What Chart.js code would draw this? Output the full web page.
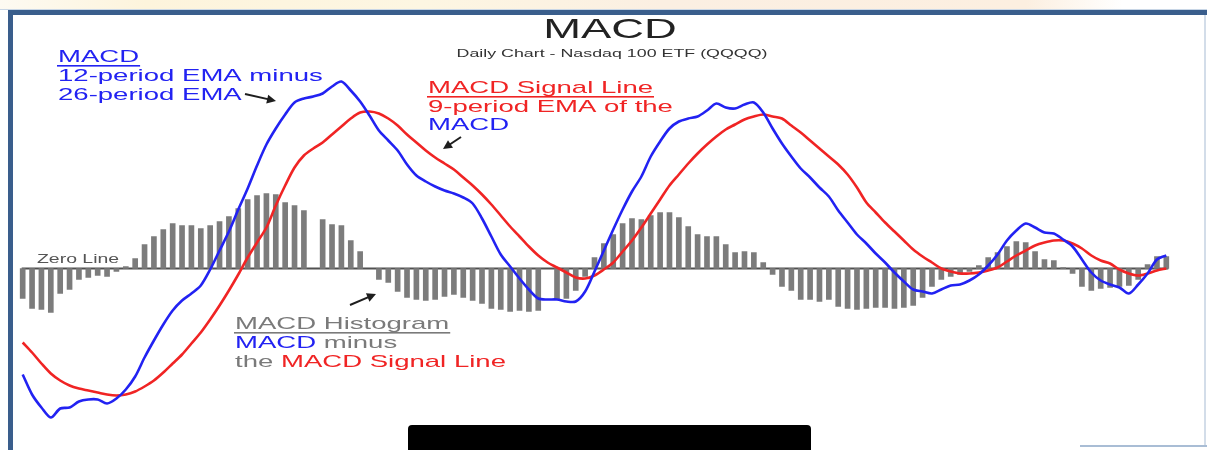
<!DOCTYPE html>
<html>
<head>
<meta charset="utf-8">
<script src="https://cdn.jsdelivr.net/npm/chart.js@4.4.1/dist/chart.umd.min.js"></script>
<style>
  html, body { margin: 0; padding: 0; background: #fff; }
  #wrap { width: 1207px; height: 450px; position: relative; }
</style>
</head>
<body>
<div id="wrap"><canvas id="macd" width="1207" height="450"></canvas></div>
<script>
// MACD — daily chart, Nasdaq 100 ETF (QQQQ)

// histogram (MACD minus signal), one bar per day; null = no bar visible
const histogram = [
  -30, -40, -41, -44, -25, -21, -11, -9, -7, -8,
  -3, 2, 10, 24, 32, 39, 45, 43, 43, 40,
  43, 47, 52, 60, 69, 73, 75, 74, 66, 63,
  58, null, 49, 44, 43, 28, 17, null, -11, -14,
  -23, -29, -31, -32, -31, -28, -26, -29, -32, -35,
  -40, -41, -43, -42, -43, -42, null, -31, -30, -22,
  -8, 11, 25, 34, 45, 50, 49, 53, 56, 56,
  51, 42, 34, 32, 32, 24, 16, 17, 16, 6,
  -6, -18, -22, -31, -31, -33, -31, -38, -40, -41,
  -40, -39, -39, -40, -39, -37, -29, -18, -11, -8,
  -6, -3, 3, 11, 16, 22, 27, 26, 17, 9,
  8, 1, -5, -18, -22, -20, -19, -18, -17, -11,
  4, 12, 12,
];

// MACD line (12 EMA - 26 EMA)
const macdLine = [
  -106, -126, -139, -149, -140, -139, -133, -131, -131, -135,
  -130, -121, -108, -89, -72, -56, -42, -32, -25, -17,
  -1, 18, 37, 59, 80, 103, 124, 140, 154, 166,
  170, 172, 175, 182, 187, 178, 167, 153, 138, 128,
  118, 104, 93, 87, 82, 78, 75, 71, 65, 50,
  32, 14, 2, -10, -21, -30, -31, -31, -33, -33,
  -23, -3, 18, 39, 59, 77, 92, 112, 127, 140,
  147, 150, 152, 158, 165, 161, 160, 164, 166, 156,
  140, 125, 112, 100, 91, 81, 72, 58, 46, 34,
  25, 15, 6, -4, -13, -21, -23, -25, -21, -17,
  -16, -12, -6, 3, 14, 28, 38, 45, 41, 36,
  35, 29, 22, 9, -4, -12, -16, -19, -25, -16,
  -5, 9, 13,
];

// signal line (9 EMA of MACD)
const signalLine = [
  -74, -84, -95, -105, -112, -117, -120, -122, -124, -126,
  -127, -126, -123, -118, -112, -104, -95, -86, -75, -64,
  -51, -37, -22, -6, 11, 26, 41, 63, 83, 101,
  113, 120, 126, 134, 142, 150, 156, 157, 155, 150,
  143, 134, 126, 118, 111, 105, 99, 91, 83, 74,
  64, 53, 42, 32, 22, 13, 6, 1, -4, -9,
  -10, -7, -1, 6, 17, 28, 41, 55, 69, 83,
  94, 105, 115, 124, 132, 139, 144, 149, 152, 154,
  152, 150, 143, 136, 128, 120, 112, 104, 94, 81,
  66, 56, 46, 37, 28, 19, 12, 6, 0, -3,
  -5, -5, -4, -2, 1, 7, 13, 18, 23, 26,
  28, 28, 25, 20, 13, 8, 5, -1, -5, -7,
  -5, -2, 0,
];

const days = histogram.map((_, i) => i + 1);

const COLORS = {
  blue: '#2222f2',
  red: '#f02424',
  bar: '#7c7c7c',
  zero: '#505050',
  frame: '#3a5e8c',
  histText: '#7a7a7a',
};

const FONT = '"Liberation Sans", Arial, sans-serif';
const STRETCH = 1.62; // the source picture is stretched horizontally

// draws a line of coloured runs, horizontally stretched; returns end x
function drawRuns(ctx, x, y, runs, size, underline) {
  ctx.font = `${size}px ${FONT}`;
  ctx.textBaseline = 'alphabetic';
  let cx = x;
  for (const [text, color] of runs) {
    const w = ctx.measureText(text).width * STRETCH;
    ctx.save();
    ctx.translate(cx, y);
    ctx.scale(STRETCH, 1);
    ctx.fillStyle = color;
    ctx.fillText(text, 0, 0);
    ctx.restore();
    cx += w;
  }
  if (underline) {
    ctx.fillStyle = underline;
    ctx.fillRect(x - 1, y + 3, cx - x + 2, 1.6);
  }
  return cx;
}

function centered(ctx, cx, y, text, size, color) {
  ctx.font = `${size}px ${FONT}`;
  const w = ctx.measureText(text).width * STRETCH;
  drawRuns(ctx, cx - w / 2, y, [[text, color]], size);
}

function arrow(ctx, x1, y1, x2, y2) {
  const a = Math.atan2(y2 - y1, x2 - x1);
  ctx.save();
  ctx.strokeStyle = '#1e1e1e';
  ctx.fillStyle = '#1e1e1e';
  ctx.lineWidth = 2;
  ctx.beginPath();
  ctx.moveTo(x1, y1);
  ctx.lineTo(x2 - 5 * Math.cos(a), y2 - 5 * Math.sin(a));
  ctx.stroke();
  ctx.beginPath();
  ctx.moveTo(x2, y2);
  ctx.lineTo(x2 - 9 * Math.cos(a) + 4.5 * Math.sin(a), y2 - 9 * Math.sin(a) - 4.5 * Math.cos(a));
  ctx.lineTo(x2 - 9 * Math.cos(a) - 4.5 * Math.sin(a), y2 - 9 * Math.sin(a) + 4.5 * Math.cos(a));
  ctx.closePath();
  ctx.fill();
  ctx.restore();
}

const framePlugin = {
  id: 'frame',
  beforeDraw(chart) {
    const ctx = chart.ctx;
    ctx.save();
    ctx.fillStyle = '#fff';
    ctx.fillRect(0, 0, 1207, 450);
    const g = ctx.createLinearGradient(0, 0, 1207, 0);
    g.addColorStop(0, '#fdfaf2');
    g.addColorStop(0.12, '#fdf4dc');
    g.addColorStop(0.35, '#fdf6e2');
    g.addColorStop(0.55, '#fbefe2');
    g.addColorStop(0.85, '#fcefe0');
    g.addColorStop(0.93, '#ffffff');
    ctx.fillStyle = g;
    ctx.fillRect(0, 0, 1207, 10);
    ctx.fillStyle = '#c8d6e6';
    ctx.fillRect(0, 9, 1207, 1);
    ctx.fillStyle = COLORS.frame;
    ctx.fillRect(8, 10, 1199, 5);
    ctx.fillRect(8, 10, 5, 440);
    ctx.fillStyle = '#d3dde9';
    ctx.fillRect(1204, 15, 2, 430);
    ctx.fillStyle = '#a9bdd5';
    ctx.fillRect(1080, 445, 127, 2);
    ctx.restore();
  },
  beforeDatasetsDraw(chart) {
    const { ctx, scales: { x, y } } = chart;
    const y0 = y.getPixelForValue(0);
    ctx.save();
    ctx.strokeStyle = COLORS.zero;
    ctx.lineWidth = 2;
    ctx.beginPath();
    ctx.moveTo(x.getPixelForValue(0) - 1, y0);
    ctx.lineTo(x.getPixelForValue(days.length - 1) + 2, y0);
    ctx.stroke();
    ctx.restore();
  },
  afterDraw(chart) {
    const ctx = chart.ctx;
    ctx.save();
    centered(ctx, 610, 38, 'MACD', 28, '#222');
    centered(ctx, 612, 57, 'Daily Chart - Nasdaq 100 ETF (QQQQ)', 11, '#333');

    drawRuns(ctx, 58, 62, [['MACD', COLORS.blue]], 17, COLORS.blue);
    drawRuns(ctx, 58, 81, [['12-period EMA minus', COLORS.blue]], 17);
    drawRuns(ctx, 58, 100, [['26-period EMA', COLORS.blue]], 17);
    arrow(ctx, 245, 94, 276, 101);

    drawRuns(ctx, 428, 93, [['MACD Signal Line', COLORS.red]], 17, COLORS.red);
    drawRuns(ctx, 428, 112, [['9-period EMA of the', COLORS.red]], 17);
    drawRuns(ctx, 428, 130, [['MACD', COLORS.blue]], 17);
    arrow(ctx, 461, 137, 443, 149);

    drawRuns(ctx, 37, 263, [['Zero Line', '#555']], 12);

    drawRuns(ctx, 235, 329, [['MACD Histogram', COLORS.histText]], 17, COLORS.histText);
    drawRuns(ctx, 235, 348, [['MACD', COLORS.blue], [' minus', COLORS.histText]], 17);
    drawRuns(ctx, 235, 367, [['the ', COLORS.histText], ['MACD Signal Line', COLORS.red]], 17);
    arrow(ctx, 350, 305, 376, 294);

    // redaction box at the bottom of the source picture
    ctx.fillStyle = '#000';
    ctx.beginPath();
    ctx.roundRect(408, 425, 403, 30, 4);
    ctx.fill();
    ctx.restore();
  },
};

new Chart(document.getElementById('macd'), {
  data: {
    labels: days,
    datasets: [
      { type: 'line', label: 'MACD', data: macdLine, borderColor: COLORS.blue, borderWidth: 2.6, pointRadius: 0, tension: 0.3, order: 1 },
      { type: 'line', label: 'Signal', data: signalLine, borderColor: COLORS.red, borderWidth: 2.6, pointRadius: 0, tension: 0.3, order: 2 },
      { type: 'bar', label: 'Histogram', data: histogram, backgroundColor: COLORS.bar, barThickness: 5, order: 3 },
    ],
  },
  options: {
    responsive: false,
    animation: false,
    layout: { padding: { left: 18, right: 36, top: 28.5, bottom: 11.5 } },
    plugins: { legend: { display: false }, tooltip: { enabled: false } },
    scales: {
      x: { display: false, offset: true },
      y: { display: false, min: -170, max: 240 },
    },
  },
  plugins: [framePlugin],
});
</script>
</body>
</html>
